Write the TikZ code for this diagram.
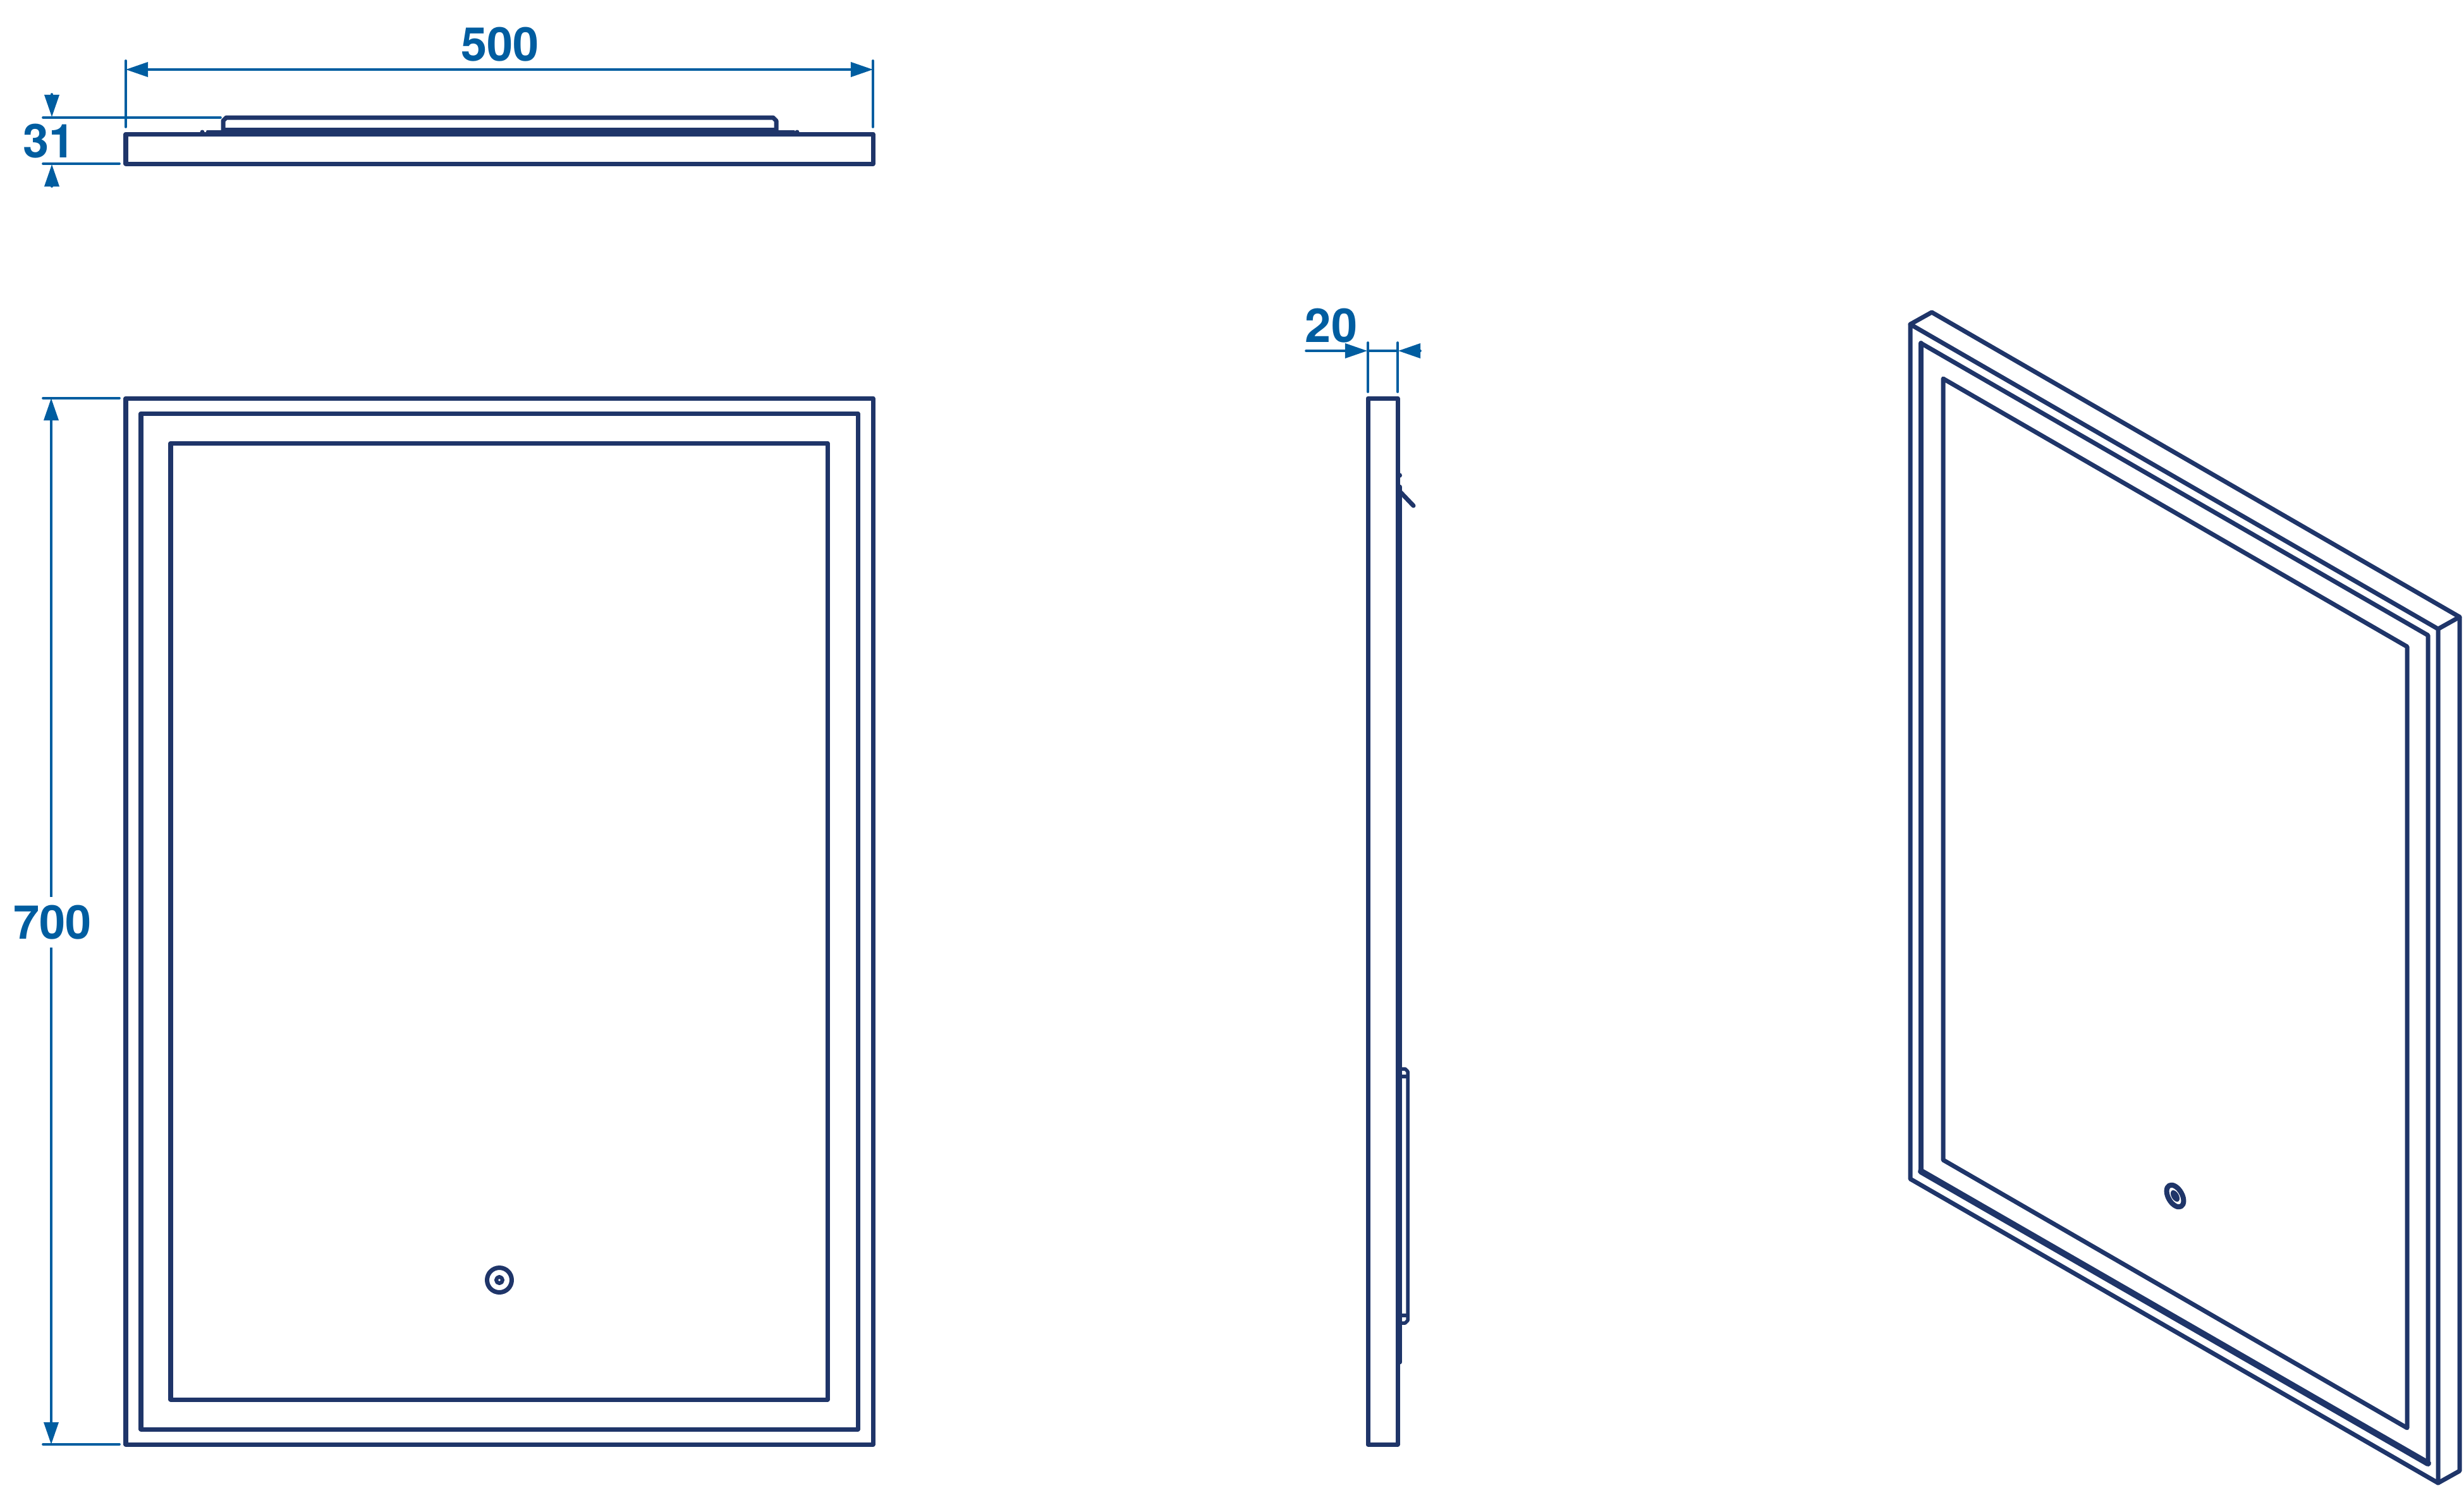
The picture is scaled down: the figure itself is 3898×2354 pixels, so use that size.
\documentclass[tikz,border=0pt]{standalone}
\usepackage{fontspec}
\setmainfont{TeX Gyre Heros}
\usepackage{xcolor}
\usetikzlibrary{arrows.meta}
\definecolor{framecol}{RGB}{31,53,105}
\definecolor{dimcol}{RGB}{0,93,160}
\tikzset{
  frameline/.style={draw=framecol,line width=.07cm,line join=round,line cap=round},
  dimline/.style={draw=dimcol,line width=.036cm,line cap=round},
  dimarrow/.style={dimline,arrows={-Triangle[length=.35cm,width=.23cm,color=dimcol]}},
  dimboth/.style={dimline,arrows={Triangle[length=.35cm,width=.23cm,color=dimcol]-Triangle[length=.35cm,width=.23cm,color=dimcol]}},
  dimtext/.style={text=dimcol,font=\fontsize{21}{21}\selectfont\bfseries,inner sep=0pt}
}
\begin{document}
\begin{tikzpicture}[x=.01cm,y=-.01cm]
\useasboundingbox (0,0) rectangle (3898,2354);

\draw [frameline] (199,212) rectangle (1381,259);
\draw [frameline] (353,209) -- (353,191) -- (358,186) -- (1223,186) -- (1228,191) -- (1228,209);
\draw [frameline,line width=.13cm,line cap=butt] (353,208.5) -- (1228,208.5);
\draw [frameline,line width=.04cm] (328,208) -- (353,208);
\draw [frameline,line width=.04cm] (1231,208) -- (1256,208);
\fill [framecol] (320,209) circle [radius=3.5];
\fill [framecol] (1261,209) circle [radius=3.5];

\draw [dimline] (199,96) -- (199,201);
\draw [dimline] (1381,96) -- (1381,201);
\draw [dimboth] (199,110) -- (1381,110);
\node [dimtext] (width500) at (791,70) {500};
\draw [dimline] (68,186) -- (349,186);
\draw [dimline] (68,259) -- (189,259);
\draw [dimarrow] (82,149) -- (82,185);
\draw [dimarrow] (82,295) -- (82,260);
\node [dimtext] (depth31) at (78,223) {31};

\draw [frameline] (199,630) rectangle (1381,2285);
\draw [frameline] (223,654) rectangle (1357,2261);
\draw [frameline] (270,701) rectangle (1309,2214);
\draw [frameline,line width=.07cm] (790,2025) circle [radius=19.5];
\draw [frameline,line width=.06cm] (790,2025) circle [radius=5];

\draw [dimline] (68,630) -- (189,630);
\draw [dimline] (68,2285) -- (189,2285);
\draw [dimboth] (81,630) -- (81,2285);
\node [dimtext,fill=white,minimum height=.8cm] (height700) at (83,1459) {700};

\draw [frameline] (2164,630) rectangle (2211,2285);
\draw [frameline] (2214,770) -- (2214,2155);
\fill [framecol] (2214,752) circle [radius=4];
\draw [frameline] (2215,778) -- (2236,800);
\draw [frameline,line width=.055cm] (2216,1691) -- (2223,1691) -- (2227,1695) -- (2227,2089) -- (2223,2093) -- (2216,2093);
\draw [frameline,line width=.055cm] (2216,1703) -- (2227,1703);
\draw [frameline,line width=.055cm] (2216,2081) -- (2227,2081);

\draw [dimline] (2164,542) -- (2164,620);
\draw [dimline] (2211,542) -- (2211,620);
\draw [dimline] (2164,555) -- (2211,555);
\draw [dimarrow] (2066,555) -- (2163,555);
\draw [dimarrow] (2247,555) -- (2212,555);
\node [dimtext] (thick20) at (2106,515) {20};

\draw [frameline] (3022,513) -- (3857,995) -- (3857,2346) -- (3022,1865) -- cycle;
\draw [frameline] (3022,513) -- (3056,494) -- (3891,976) -- (3891,2327) -- (3857,2346);
\draw [frameline] (3857,995) -- (3891,976);
\draw [frameline] (3039,543) -- (3841,1005) -- (3841,2315);
\draw [frameline,line width=.08cm] (3039,543) -- (3039,1853);
\draw [frameline,line width=.1cm] (3039,1853) -- (3841,2315);
\draw [frameline] (3074,599) -- (3808,1023) -- (3808,2259) -- (3074,1835) -- cycle;
\begin{scope}[cm={.706,-.408,0,.816,(3441,1892)}]
\draw [frameline,line width=.08cm] (0,0) circle [radius=19];
\fill [framecol] (0,0) circle [radius=10];
\end{scope}
\end{tikzpicture}
\end{document}
